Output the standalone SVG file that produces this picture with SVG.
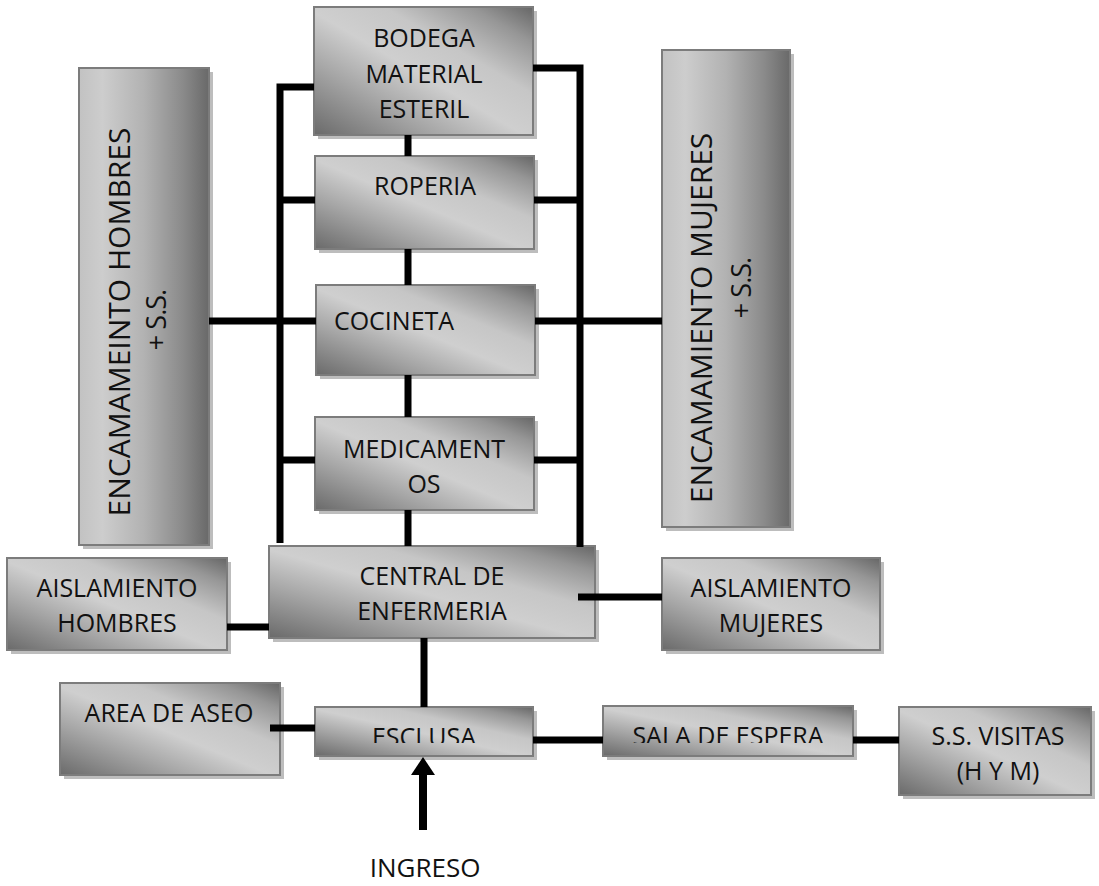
<svg xmlns="http://www.w3.org/2000/svg" width="1099" height="886" viewBox="0 0 1099 886">
  <defs>
    <!-- diagonal sheen for the flat boxes: dark corners bottom-left / top-right -->
    <linearGradient id="sheen" x1="0" y1="1" x2="1" y2="0">
      <stop offset="0" stop-color="#6a6a6a"/>
      <stop offset="0.28" stop-color="#a6a6a6"/>
      <stop offset="0.48" stop-color="#cfcfcf"/>
      <stop offset="0.66" stop-color="#c6c6c6"/>
      <stop offset="0.86" stop-color="#969696"/>
      <stop offset="1" stop-color="#666666"/>
    </linearGradient>
    <!-- left-to-right sheen for the tall boxes -->
    <linearGradient id="sheenTall" x1="0" y1="0" x2="1" y2="0">
      <stop offset="0" stop-color="#c2c2c2"/>
      <stop offset="0.18" stop-color="#cdcdcd"/>
      <stop offset="0.5" stop-color="#b2b2b2"/>
      <stop offset="0.8" stop-color="#8a8a8a"/>
      <stop offset="1" stop-color="#696969"/>
    </linearGradient>
    <marker id="head" markerUnits="userSpaceOnUse" viewBox="0 0 18 24" refX="0" refY="12" markerWidth="18" markerHeight="24" orient="auto">
      <path d="M0,0 L18,12 L0,24 z" fill="#000"/>
    </marker>
    <clipPath id="clipEsclusa"><rect x="315" y="707" width="218" height="36"/></clipPath>
    <clipPath id="clipSala"><rect x="603" y="706" width="250" height="37"/></clipPath>
  </defs>
  <style>
    .shadow { fill: #bdbdbd; }
    .box { fill: url(#sheen); stroke: #7c7c7c; stroke-width: 2; }
    .tall { fill: url(#sheenTall); stroke: #7c7c7c; stroke-width: 2; }
    .lbl { font-family: "Open Sans", "Liberation Sans", sans-serif; font-size: 25px; fill: #111; text-anchor: middle; }
    .vlbl { font-family: "Open Sans", "Liberation Sans", sans-serif; font-size: 30px; fill: #111; text-anchor: middle; }
    .vsub { font-size: 27px; letter-spacing: -1px; }
    .wire { fill: none; stroke: #000; stroke-width: 7; stroke-linejoin: miter; stroke-linecap: butt; }
  </style>

  <rect width="1099" height="886" fill="#fff"/>

  <!-- tall ward boxes -->
  <g id="encamamiento-hombres">
    <rect class="shadow" x="83" y="72" width="130" height="477"/>
    <rect class="tall" x="79" y="68" width="130" height="477"/>
    <text class="vlbl" transform="translate(130,322) rotate(-90)">ENCAMAMEINTO HOMBRES</text>
    <text class="vlbl vsub" transform="translate(166,320) rotate(-90)">+ S.S.</text>
  </g>
  <g id="encamamiento-mujeres">
    <rect class="shadow" x="666" y="54" width="128" height="477"/>
    <rect class="tall" x="662" y="50" width="128" height="477"/>
    <text class="vlbl" transform="translate(712,318) rotate(-90)">ENCAMAMIENTO MUJERES</text>
    <text class="vlbl vsub" transform="translate(751,288) rotate(-90)">+ S.S.</text>
  </g>

  <!-- central column -->
  <g id="bodega">
    <rect class="shadow" x="318" y="11" width="219" height="128"/>
    <rect class="box" x="314" y="7" width="219" height="128"/>
    <text class="lbl" x="424" y="47">BODEGA</text>
    <text class="lbl" x="424" y="83">MATERIAL</text>
    <text class="lbl" x="424" y="118">ESTERIL</text>
  </g>
  <g id="roperia">
    <rect class="shadow" x="319" y="160" width="219" height="93"/>
    <rect class="box" x="315" y="156" width="219" height="93"/>
    <text class="lbl" x="425" y="195">ROPERIA</text>
  </g>
  <g id="cocineta">
    <rect class="shadow" x="320" y="289" width="219" height="90"/>
    <rect class="box" x="316" y="285" width="219" height="90"/>
    <text class="lbl" x="394" y="330">COCINETA</text>
  </g>
  <g id="medicamentos">
    <rect class="shadow" x="319" y="421" width="219" height="93"/>
    <rect class="box" x="315" y="417" width="219" height="93"/>
    <text class="lbl" x="424" y="458">MEDICAMENT</text>
    <text class="lbl" x="424" y="493">OS</text>
  </g>
  <g id="central-enfermeria">
    <rect class="shadow" x="273" y="550" width="326" height="92"/>
    <rect class="box" x="269" y="546" width="326" height="92"/>
    <text class="lbl" x="432" y="585">CENTRAL DE</text>
    <text class="lbl" x="432" y="620">ENFERMERIA</text>
  </g>

  <!-- isolation rooms -->
  <g id="aislamiento-hombres">
    <rect class="shadow" x="11" y="562" width="220" height="92"/>
    <rect class="box" x="7" y="558" width="220" height="92"/>
    <text class="lbl" x="117" y="597">AISLAMIENTO</text>
    <text class="lbl" x="117" y="632">HOMBRES</text>
  </g>
  <g id="aislamiento-mujeres">
    <rect class="shadow" x="666" y="562" width="218" height="92"/>
    <rect class="box" x="662" y="558" width="218" height="92"/>
    <text class="lbl" x="771" y="597">AISLAMIENTO</text>
    <text class="lbl" x="771" y="632">MUJERES</text>
  </g>

  <!-- entrance row -->
  <g id="area-aseo">
    <rect class="shadow" x="64" y="687" width="220" height="92"/>
    <rect class="box" x="60" y="683" width="220" height="92"/>
    <text class="lbl" x="169" y="722">AREA DE ASEO</text>
  </g>
  <g id="esclusa">
    <rect class="shadow" x="319" y="711" width="218" height="49"/>
    <rect class="box" x="315" y="707" width="218" height="49"/>
    <text class="lbl" x="424" y="746" clip-path="url(#clipEsclusa)">ESCLUSA</text>
  </g>
  <g id="sala-espera">
    <rect class="shadow" x="607" y="710" width="250" height="50"/>
    <rect class="box" x="603" y="706" width="250" height="50"/>
    <text class="lbl" x="728" y="745" clip-path="url(#clipSala)">SALA DE ESPERA</text>
  </g>
  <g id="ss-visitas">
    <rect class="shadow" x="903" y="711" width="192" height="88"/>
    <rect class="box" x="899" y="707" width="192" height="88"/>
    <text class="lbl" x="998" y="745">S.S. VISITAS</text>
    <text class="lbl" x="998" y="780">(H Y M)</text>
  </g>

  <!-- connectors -->
  <g id="connectors">
    <path class="wire" d="M314,87 H280 V543"/>
    <path class="wire" d="M533,68 H580 V547"/>
    <path class="wire" d="M280,200 H315 M534,200 H580"/>
    <path class="wire" d="M280,460 H315 M534,460 H580"/>
    <path class="wire" d="M408,135 V156 M408,249 V285 M408,375 V417 M408,510 V546"/>
    <path class="wire" d="M209,321 H316 M535,321 H662"/>
    <path class="wire" d="M578,597 H662 M227,627 H269 M424,638 V707"/>
    <path class="wire" d="M270,728 H315 M533,740 H603 M853,740 H899"/>
    <line x1="423" y1="830" x2="423" y2="775" stroke="#000" stroke-width="8" marker-end="url(#head)"/>
  </g>

  <g id="ingreso">
    <text class="lbl" x="425" y="877" style="font-size:26px">INGRESO</text>
  </g>
</svg>
